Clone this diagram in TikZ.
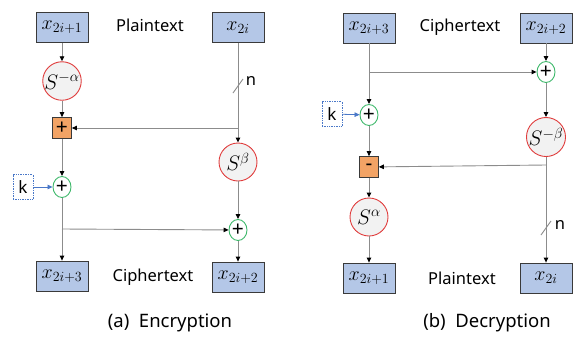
\RequirePackage{fix-cm}
\documentclass[tikz,border=0pt]{standalone}
\usepackage{fontspec}
\setmainfont{Noto Sans}
\usetikzlibrary{arrows.meta,shapes.geometric}
\definecolor{boxblue}{HTML}{B4C7E7}
\definecolor{boxedge}{HTML}{3A3A3A}
\definecolor{sred}{HTML}{E03C3C}
\definecolor{sfill}{HTML}{F2F2F2}
\definecolor{xgreen}{HTML}{3DB86A}
\definecolor{opfill}{HTML}{F2A365}
\definecolor{wire}{HTML}{8C8C8C}
\definecolor{kblue}{HTML}{4A78C8}
\tikzset{
  word/.style={rectangle,draw=boxedge,fill=boxblue,line width=0.8pt,
    minimum width=52pt,minimum height=30pt,inner sep=0pt,
    font=\fontsize{20}{24}\selectfont},
  sbox/.style={circle,draw=sred,fill=sfill,line width=0.9pt,
    minimum size=38pt,inner sep=0pt,font=\fontsize{21}{24}\selectfont},
  xorop/.style={ellipse,draw=xgreen,fill=white,line width=0.9pt,
    minimum width=18pt,minimum height=21pt,inner sep=0pt,
    font=\fontsize{21}{22}\selectfont},
  addop/.style={rectangle,draw=boxedge,fill=opfill,line width=0.7pt,
    minimum width=19pt,minimum height=21pt,inner sep=0pt,
    font=\fontsize{21}{22}\selectfont},
  keybox/.style={rectangle,draw=kblue,densely dotted,line width=0.7pt,
    minimum width=20pt,minimum height=25pt,inner sep=0pt,
    font=\fontsize{17}{20}\selectfont},
  label/.style={font=\fontsize{16.5}{20}\selectfont},
  caption/.style={font=\fontsize{18.5}{22}\selectfont},
  conn/.style={draw=wire,line width=0.9pt,
    -{Triangle[black,length=5pt,width=4.5pt]}},
  plain/.style={draw=wire,line width=0.9pt},
  keyconn/.style={draw=kblue,line width=0.8pt,
    -{Triangle[kblue,length=5pt,width=4.5pt]}},
}
\begin{document}
\begin{tikzpicture}[x=1pt,y=-1pt]
\useasboundingbox (0,0) rectangle (579,338);

% ---------- (a) Encryption ----------
\node[word] (a1) at (62,27.5) {$x_{2i+1}$};
\node[word] (a0) at (238,27.5) {$x_{2i}$};
\node[label] (apt) at (150,25) {Plaintext};
\node[sbox] (asa) at (62,81) {$S^{-\alpha}$};
\node[addop] (aadd) at (62,128) {+};
\node[sbox] (asb) at (238,162) {$S^{\beta}$};
\node[keybox] (ak) at (23,187) {k};
\node[xorop] (ax1) at (62,187) {+};
\node[xorop] (ax2) at (238,230) {+};
\node[word] (a3) at (62,276) {$x_{2i+3}$};
\node[word] (a2) at (238,277) {$x_{2i+2}$};
\node[label] (act) at (153,277) {Ciphertext};
\node[caption] (acap) at (170,323) {(a)\ \ Encryption};
\coordinate (abr1) at (238,128);
\coordinate (abr2) at (62,229);
\coordinate (asl) at (238,86);

\draw[conn] (a1) -- (asa);
\draw[conn] (asa) -- (aadd);
\draw[conn] (a0) -- (asb);
\draw[conn] (abr1) -- (aadd);
\draw[conn] (aadd) -- (ax1);
\draw[keyconn] (ak) -- (ax1);
\draw[conn] (ax1) -- (a3);
\draw[conn] (abr2) -- (ax2);
\draw[conn] (asb) -- (ax2);
\draw[conn] (ax2) -- (a2);
\draw[plain] ([shift={(-5,7)}]asl) -- ([shift={(5,-7)}]asl);
\node[label] (an) at (251,81) {n};

% ---------- (b) Decryption ----------
\node[word] (b3) at (369,28) {$x_{2i+3}$};
\node[word] (b2) at (546,28) {$x_{2i+2}$};
\node[label] (bct) at (460,27) {Ciphertext};
\node[xorop] (bxr) at (546,72) {+};
\node[keybox] (bk) at (332,114) {k};
\node[xorop] (bxl) at (369,115) {+};
\node[sbox] (bsb) at (546,137) {$S^{-\beta}$};
\node[addop] (bsub) at (369,167) {-};
\node[sbox] (bsa) at (369,217) {$S^{\alpha}$};
\node[word] (b1) at (369,278) {$x_{2i+1}$};
\node[word] (b0) at (546,278) {$x_{2i}$};
\node[label] (bpt) at (462,278) {Plaintext};
\node[caption] (bcap) at (487,323) {(b)\ \ Decryption};
\coordinate (bbr1) at (369,72);
\coordinate (bbr2) at (546,165);
\coordinate (bsl) at (546,228);

\draw[conn] (b3) -- (bxl);
\draw[conn] (bbr1) -- (bxr);
\draw[conn] (b2) -- (bxr);
\draw[conn] (bxr) -- (bsb);
\draw[keyconn] (bk) -- (bxl);
\draw[conn] (bxl) -- (bsub);
\draw[conn] (bsb) -- (b0);
\draw[conn] (bbr2) -- (bsub);
\draw[conn] (bsub) -- (bsa);
\draw[conn] (bsa) -- (b1);
\draw[plain] ([shift={(-5,7)}]bsl) -- ([shift={(5,-7)}]bsl);
\node[label] (bn) at (560,225) {n};
\end{tikzpicture}
\end{document}
